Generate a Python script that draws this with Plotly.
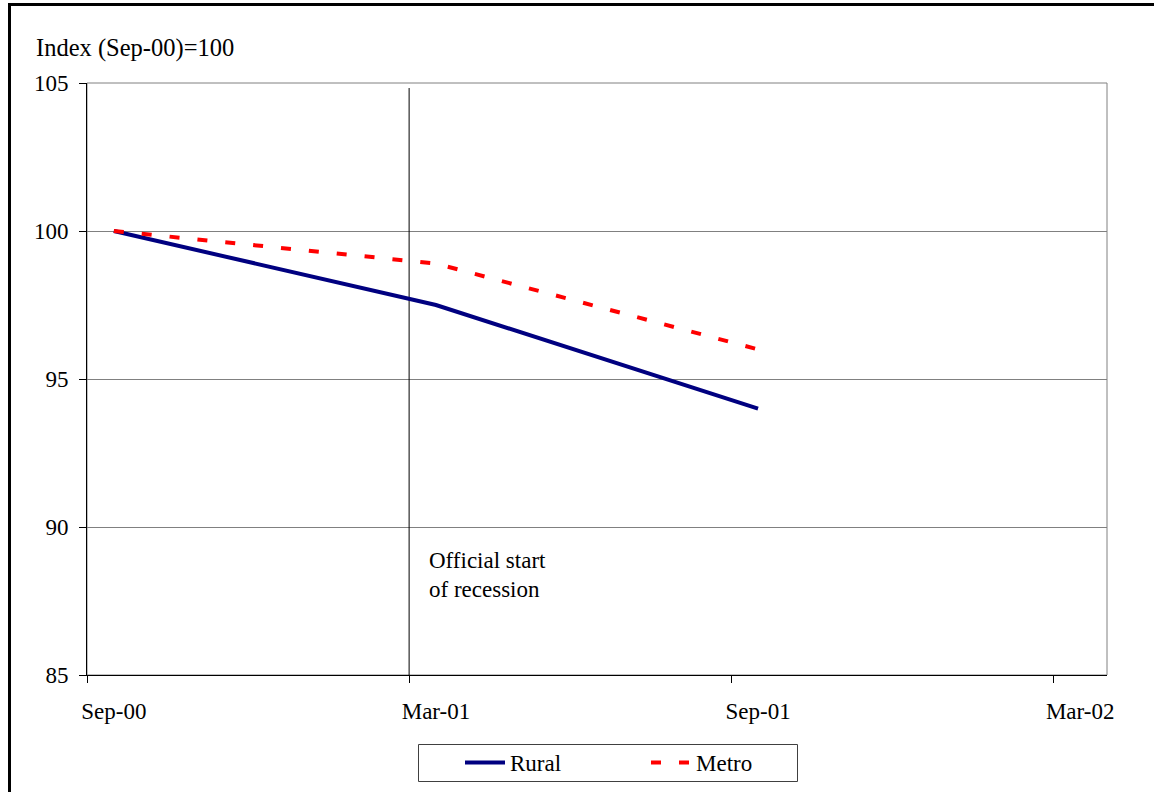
import pandas as pd
import plotly.graph_objects as go

# Monthly index values (Sep-00 = 100)
months = ["Sep-00", "Mar-01", "Sep-01"]
rural = [100.0, 97.5, 94.0]
metro = [100.0, 98.9, 96.0]

tick_labels = ["Sep-00", "Mar-01", "Sep-01", "Mar-02"]
recession_start = "Mar-01"
first_month, last_month = "Sep-00", "Mar-02"


# Excel-style time axis: months are equal-width slots counted from the first
# month; a month's slot starts at its index and its points sit mid-slot.
def month_index(label):
    ts = pd.to_datetime(label, format="%b-%y")
    base = pd.to_datetime(first_month, format="%b-%y")
    return (ts.year - base.year) * 12 + (ts.month - base.month)


x_range = [0, month_index(last_month) + 1]

W, H = 1154, 792
ML, MR, MT, MB = 87, 47, 83, 117
PW, PH = W - ML - MR, H - MT - MB


def px_x(p):
    return (p - ML) / PW


def px_y(p):
    return (H - MB - p) / PH


FONT = "Liberation Serif, Times New Roman, serif"
FS = 23

fig = go.Figure()

fig.add_trace(go.Scatter(
    x=[month_index(recession_start)] * 2, y=[85, 104.83],
    mode="lines", line=dict(color="black", width=1),
    showlegend=False, hoverinfo="skip"))

fig.add_trace(go.Scatter(
    x=[month_index(m) + 0.5 for m in months], y=rural, name="Rural",
    mode="lines", line=dict(color="#000080", width=4)))

fig.add_trace(go.Scatter(
    x=[month_index(m) + 0.5 for m in months], y=metro, name="Metro",
    mode="lines", line=dict(color="#FF0000", width=4, dash="10px,18px")))

fig.update_layout(
    width=W, height=H,
    margin=dict(l=ML, r=MR, t=MT, b=MB, autoexpand=False),
    paper_bgcolor="white", plot_bgcolor="white",
    font=dict(family=FONT, size=FS, color="black"),
    xaxis=dict(
        range=x_range,
        tickvals=[month_index(m) for m in tick_labels],
        showticklabels=False, ticks="outside", ticklen=7, tickcolor="black",
        showline=True, linecolor="black", linewidth=1, showgrid=False,
        zeroline=False, automargin=False),
    xaxis2=dict(
        range=x_range, overlaying="x", side="bottom", anchor="y",
        tickvals=[month_index(m) + 0.5 for m in tick_labels],
        ticktext=tick_labels,
        ticks="", showline=False, showgrid=False, zeroline=False,
        ticklabelstandoff=20, automargin=False,
        tickfont=dict(family=FONT, size=FS)),
    yaxis=dict(
        range=[85, 105], tickvals=[85, 90, 95, 100, 105],
        ticks="outside", ticklen=7, tickcolor="black",
        showline=True, linecolor="black", linewidth=1,
        showgrid=True, gridcolor="#808080", gridwidth=1, zeroline=False,
        ticklabelstandoff=6, automargin=False,
        tickfont=dict(family=FONT, size=FS)),
    legend=dict(
        orientation="h", x=px_x(460), xanchor="left",
        y=px_y(741), yanchor="top",
        borderwidth=0, bgcolor="rgba(0,0,0,0)",
        itemwidth=40, entrywidth=131, entrywidthmode="pixels",
        font=dict(family=FONT, size=FS)),
    showlegend=True,
)

# An invisible trace on the label axis keeps it drawn
fig.add_trace(go.Scatter(x=x_range, y=[None, None], xaxis="x2",
                         showlegend=False, hoverinfo="skip"))

# Plot-area frame (grey), legend box, outer chart frame (black)
fig.add_shape(type="rect", xref="paper", yref="paper", x0=0, y0=0, x1=1, y1=1,
              line=dict(color="#808080", width=1), layer="below")
fig.add_shape(type="rect", xref="paper", yref="paper",
              x0=px_x(418.5), y0=px_y(781.5), x1=px_x(797.5), y1=px_y(744.5),
              line=dict(color="#404040", width=1), layer="below")
fig.add_shape(type="rect", xref="paper", yref="paper",
              x0=px_x(9.5), y0=px_y(800), x1=px_x(1165), y1=px_y(4.5),
              line=dict(color="black", width=3), layer="below")

fig.add_annotation(text="Index (Sep-00)=100", xref="paper", yref="paper",
                   x=px_x(34), y=px_y(48), xanchor="left", yanchor="middle",
                   showarrow=False, font=dict(family=FONT, size=24.5))
fig.add_annotation(text="Official start", xref="x", yref="y",
                   x=month_index(recession_start), y=88.87, xshift=18,
                   xanchor="left", yanchor="middle", showarrow=False,
                   font=dict(family=FONT, size=FS))
fig.add_annotation(text="of recession", xref="x", yref="y",
                   x=month_index(recession_start), y=87.89, xshift=18,
                   xanchor="left", yanchor="middle", showarrow=False,
                   font=dict(family=FONT, size=FS))

fig.write_html("out.html")
